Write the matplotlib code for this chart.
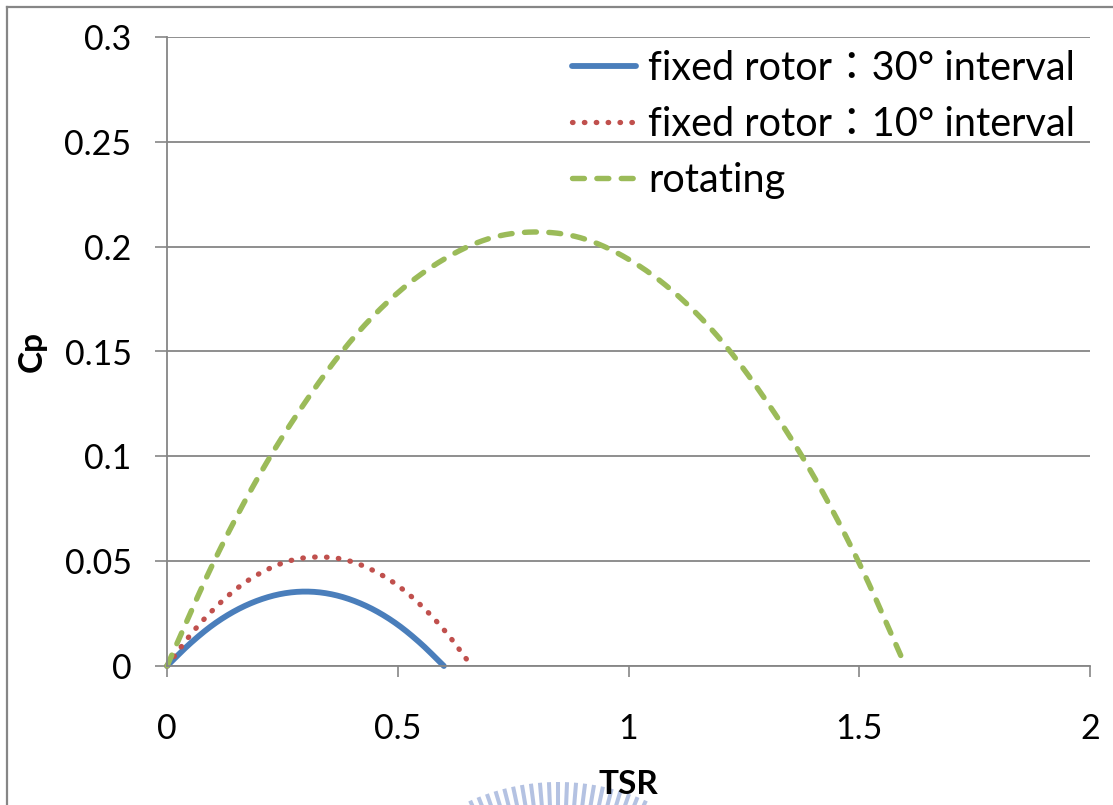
import numpy as np
import matplotlib
matplotlib.use("Agg")
import matplotlib.pyplot as plt
from matplotlib.lines import Line2D
from matplotlib.font_manager import FontProperties

# Power coefficient vs tip speed ratio
tsr_fixed30 = [0.0, 0.05, 0.10, 0.15, 0.20, 0.25, 0.30, 0.35, 0.40, 0.45, 0.50, 0.55, 0.60]
cp_fixed30 = [0.0, 0.0107, 0.0197, 0.0266, 0.0315, 0.0345, 0.0355, 0.0345, 0.0315, 0.0266, 0.0197, 0.0107, 0.0]

tsr_fixed10 = [0.0, 0.055, 0.11, 0.165, 0.22, 0.275, 0.33, 0.385, 0.44, 0.495, 0.55, 0.605, 0.66]
cp_fixed10 = [0.0, 0.0160, 0.0290, 0.0392, 0.0463, 0.0507, 0.0520, 0.0507, 0.0463, 0.0392, 0.0290, 0.0160, 0.0]

tsr_rotating = [0.0, 0.1, 0.2, 0.3, 0.4, 0.5, 0.6, 0.7, 0.8, 0.9, 1.0, 1.1, 1.2, 1.3, 1.4, 1.5, 1.6]
cp_rotating = [0.0, 0.049, 0.091, 0.126, 0.1555, 0.178, 0.194, 0.204, 0.207, 0.204, 0.194, 0.178,
               0.1555, 0.126, 0.091, 0.049, 0.0]

series_labels = ["fixed rotor\uff1a30\u00b0 interval",
                 "fixed rotor\uff1a10\u00b0 interval",
                 "rotating"]
x_ticks = [0, 0.5, 1, 1.5, 2]
x_tick_labels = ["0", "0.5", "1", "1.5", "2"]
y_ticks = [0, 0.05, 0.1, 0.15, 0.2, 0.25, 0.3]
y_tick_labels = ["0", "0.05", "0.1", "0.15", "0.2", "0.25", "0.3"]

BLUE = "#4a7ebb"
RED = "#c0504d"
GREEN = "#9bbb59"
GRAY = "#868686"


def smooth(xs, ys, n=24):
    """Catmull-Rom spline through the points (smoothed line)."""
    p = np.column_stack([xs, ys]).astype(float)
    p = np.vstack([2 * p[0] - p[1], p, 2 * p[-1] - p[-2]])
    out = []
    t = np.linspace(0, 1, n, endpoint=False)[:, None]
    for i in range(1, len(p) - 2):
        p0, p1, p2, p3 = p[i - 1], p[i], p[i + 1], p[i + 2]
        seg = 0.5 * ((2 * p1) + (-p0 + p2) * t + (2 * p0 - 5 * p1 + 4 * p2 - p3) * t ** 2
                     + (-p0 + 3 * p1 - 3 * p2 + p3) * t ** 3)
        out.append(seg)
    out.append(p[-2][None, :])
    out = np.vstack(out)
    return out[:, 0], out[:, 1]


plt.rcParams["font.family"] = ["Lato", "Noto Sans CJK TC", "DejaVu Sans"]

W, H = 1113, 805
fig = plt.figure(figsize=(W / 100, H / 100), dpi=100)

# outer chart frame
fig.add_artist(Line2D([7 / W, 1.0], [1 - 7 / H, 1 - 7 / H], color=GRAY, lw=1.6))
fig.add_artist(Line2D([7 / W, 7 / W], [0.0, 1 - 7 / H], color=GRAY, lw=1.6))

# faint seal in the page background
bg = fig.add_axes([0, 0, 1, 1], zorder=-5)
bg.set_xlim(0, W)
bg.set_ylim(H, 0)
bg.axis("off")
cx, cy, r_out, r_in = 558, 998, 216, 190
for ang in np.arange(-24, 24.1, 2.4):
    a = np.deg2rad(ang)
    bg.plot([cx + r_in * np.sin(a), cx + r_out * np.sin(a)],
            [cy - r_in * np.cos(a), cy - r_out * np.cos(a)],
            color="#b4c2e2", lw=2.9, solid_capstyle="butt")

ax = fig.add_axes([167 / W, 1 - 666 / H, (1090 - 167) / W, (666 - 37) / H])
ax.set_xlim(0, 2)
ax.set_ylim(0, 0.3)

ax.set_yticks(y_ticks)
ax.set_yticklabels(y_tick_labels)
ax.set_xticks(x_ticks)
ax.set_xticklabels(x_tick_labels)
ax.tick_params(axis="y", direction="out", length=8.5, width=1.2, color=GRAY, pad=17, labelsize=24.5)
ax.tick_params(axis="x", direction="out", length=8, width=1.2, color=GRAY, pad=26, labelsize=24.5)

ax.grid(axis="y", color=GRAY, lw=1.3)
ax.set_axisbelow(True)
for side in ("top", "right"):
    ax.spines[side].set_visible(False)
for side in ("left", "bottom"):
    ax.spines[side].set_color(GRAY)
    ax.spines[side].set_linewidth(1.3)

x1, y1 = smooth(tsr_fixed30, cp_fixed30)
x2, y2 = smooth(tsr_fixed10, cp_fixed10)
x3, y3 = smooth(tsr_rotating, cp_rotating)

ax.plot(x1, y1, color=BLUE, lw=4.2, solid_capstyle="round", label=series_labels[0], clip_on=False)
ax.plot(x2, y2, color=RED, lw=3.8, linestyle=(0, (0.1, 2.15)), dash_capstyle="round",
        label=series_labels[1], clip_on=False)
ax.plot(x3, y3, color=GREEN, lw=3.9, linestyle=(0, (2.2, 2.3)), dash_capstyle="round",
        label=series_labels[2], clip_on=False)

ax.set_xlabel("TSR", fontsize=24, fontweight="bold", labelpad=18)
ax.set_ylabel("Cp", fontsize=24, fontweight="bold", labelpad=13)

leg = ax.legend(loc="upper right", bbox_to_anchor=(0.984, 0.979), frameon=False,
                prop=FontProperties(family=["Lato", "Noto Sans CJK TC"], size=28.5),
                handlelength=1.62, handletextpad=0.31, labelspacing=0.48,
                borderaxespad=0.0, borderpad=0.0)

fig.savefig("out.png", dpi=100)
